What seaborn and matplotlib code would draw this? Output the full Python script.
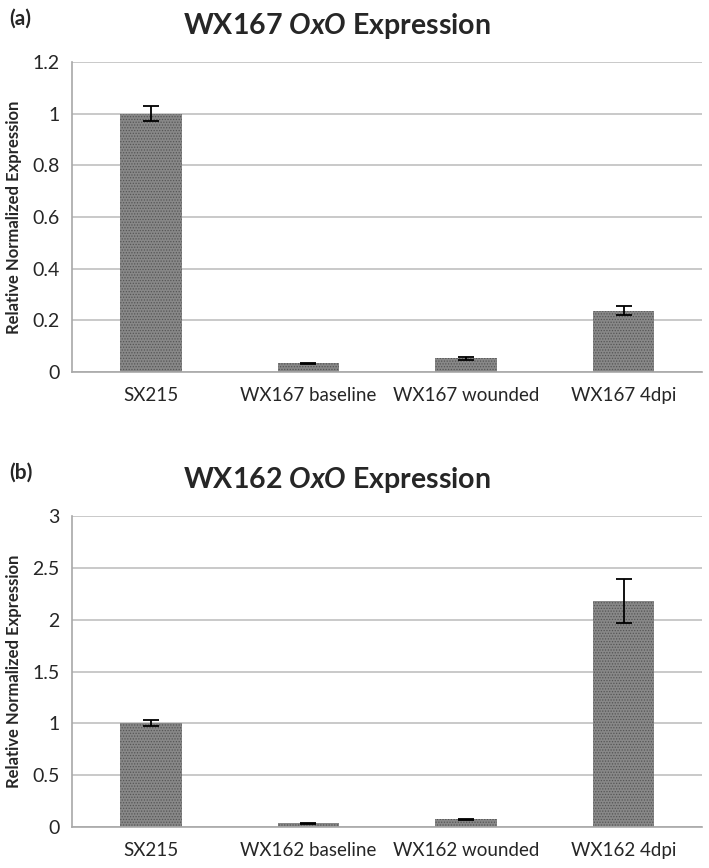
import numpy as np
import pandas as pd
import matplotlib
matplotlib.use("Agg")
import matplotlib.pyplot as plt
import seaborn as sns
from matplotlib.ticker import FuncFormatter

# values
cats_a = ["SX215", "WX167 baseline", "WX167 wounded", "WX167 4dpi"]
vals_a = [1.0, 0.034, 0.053, 0.238]
errs_a = [0.028, 0.002, 0.005, 0.016]

cats_b = ["SX215", "WX162 baseline", "WX162 wounded", "WX162 4dpi"]
vals_b = [1.0, 0.035, 0.075, 2.18]
errs_b = [0.03, 0.008, 0.005, 0.21]

sns.set_style("white")
plt.rcParams["font.family"] = ["Lato", "DejaVu Sans"]
plt.rcParams["mathtext.fontset"] = "custom"
plt.rcParams["mathtext.it"] = "Lato:italic:bold"
plt.rcParams["mathtext.rm"] = "Lato:bold"
plt.rcParams["mathtext.bf"] = "Lato:bold"
plt.rcParams["hatch.color"] = "#555555"
plt.rcParams["hatch.linewidth"] = 0.6

fig = plt.figure(figsize=(7.09, 8.68), dpi=100)
ax_a = fig.add_axes([0.1016, 0.5714, 0.889, 0.3572])
ax_b = fig.add_axes([0.1016, 0.0472, 0.889, 0.3583])


def draw_panel(ax, cats, vals, errs, ymax, step, title, tag):
    df = pd.DataFrame({"cat": cats, "val": vals})
    sns.barplot(data=df, x="cat", y="val", ax=ax, color="#888888",
                width=0.39, saturation=1, errorbar=None)
    for p in ax.patches:
        p.set_hatch("......")
        p.set_edgecolor("#555555")
        p.set_linewidth(0)
    ax.errorbar(np.arange(len(cats)), vals, yerr=errs, fmt="none",
                ecolor="black", elinewidth=1.3, capsize=6, capthick=1.3)
    ax.set_xlim(-0.5, len(cats) - 0.5)
    ax.set_ylim(0, ymax)
    ax.set_yticks(np.arange(0, ymax + step / 2, step))
    ax.yaxis.set_major_formatter(FuncFormatter(lambda v, _: f"{v:g}"))
    ax.grid(axis="y", color="#c0c0c0", linewidth=1.2)
    ax.set_axisbelow(True)
    for s in ["top", "right"]:
        ax.spines[s].set_visible(False)
    for s in ["left", "bottom"]:
        ax.spines[s].set_color("#a8a8a8")
        ax.spines[s].set_linewidth(1.2)
    ax.set_xticks([0.5, 1.5, 2.5], minor=True)
    ax.tick_params(axis="x", which="major", length=0, pad=11, labelsize=13.5)
    ax.tick_params(axis="x", which="minor", length=7, color="#a8a8a8", width=1.2)
    ax.tick_params(axis="y", length=5, color="#a8a8a8", width=1.2, labelsize=14, pad=4)
    ax.set_xlabel("")
    ax.set_ylabel("Relative Normalized Expression", fontsize=12,
                  fontweight="bold", labelpad=7)
    ax.set_title(title, fontsize=20.5, fontweight="bold", pad=20, x=0.42)
    ax.text(-0.1, 1.14, tag, transform=ax.transAxes, fontsize=15,
            fontweight="bold", ha="left", va="center")


draw_panel(ax_a, cats_a, vals_a, errs_a, 1.2, 0.2,
           r"WX167 $\mathit{OxO}$ Expression", "(a)")
draw_panel(ax_b, cats_b, vals_b, errs_b, 3.0, 0.5,
           r"WX162 $\mathit{OxO}$ Expression", "(b)")

fig.savefig("out.png", dpi=100)
